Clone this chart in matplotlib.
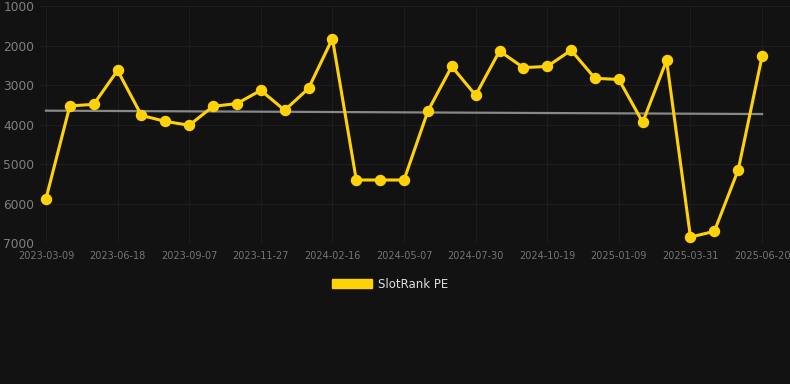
import matplotlib
matplotlib.use("Agg")
import matplotlib.pyplot as plt
from matplotlib.patches import Patch

# Data
tick_labels = ["2023-03-09", "2023-06-18", "2023-09-07", "2023-11-27", "2024-02-16",
               "2024-05-07", "2024-07-30", "2024-10-19", "2025-01-09", "2025-03-31",
               "2025-06-20"]
values = [5880, 3530, 3490, 2630, 3770, 3920, 4020, 3540, 3470, 3135,
          3640, 3085, 1825, 5405, 5405, 5405, 3660, 2530, 3260, 2140,
          2560, 2530, 2120, 2830, 2860, 3945, 2375, 6850, 6705, 5150, 2275]
trend = [3650, 3735]
series_name = "SlotRank PE"
y_ticks = [1000, 2000, 3000, 4000, 5000, 6000, 7000]

BG = "#121212"
YELLOW = "#FFD208"

fig = plt.figure(figsize=(7.9, 3.84), dpi=100, facecolor=BG)
W, H = 790, 384
ax = fig.add_axes([40 / W, 1 - 243 / H, (790 - 40) / W, (243 - 6) / H])
ax.set_facecolor(BG)

x = list(range(len(values)))
ax.plot([0, len(values) - 1], trend, color="#888888", lw=1.6, zorder=2)
ax.plot(x, values, color=YELLOW, lw=2.2, marker="o", ms=7.2, zorder=3,
        solid_joinstyle="round")

ax.set_ylim(7000, 1000)
ax.set_yticks(y_ticks)
ax.set_yticklabels([str(v) for v in y_ticks])
ax.set_xlim(-0.25, 31.17)
tick_pos = list(range(0, len(values), 3))
ax.set_xticks(tick_pos)
ax.set_xticklabels(tick_labels)

for s in ax.spines.values():
    s.set_visible(False)
ax.grid(True, color="#1d1d1d", lw=0.8, zorder=0)
ax.tick_params(axis="both", length=0)
ax.tick_params(axis="y", colors="#7f7f7f", labelsize=8.8, pad=4)
ax.tick_params(axis="x", colors="#747474", labelsize=7.0, pad=6)

fig.legend(handles=[Patch(facecolor=YELLOW, edgecolor=YELLOW, label=series_name)],
           loc="center", bbox_to_anchor=(390 / W, 1 - 284 / H), frameon=False,
           handlelength=3.4, handleheight=0.9, fontsize=8.5, labelcolor="#dddddd",
           handletextpad=0.5)

fig.savefig("out.png", dpi=100, facecolor=BG)
